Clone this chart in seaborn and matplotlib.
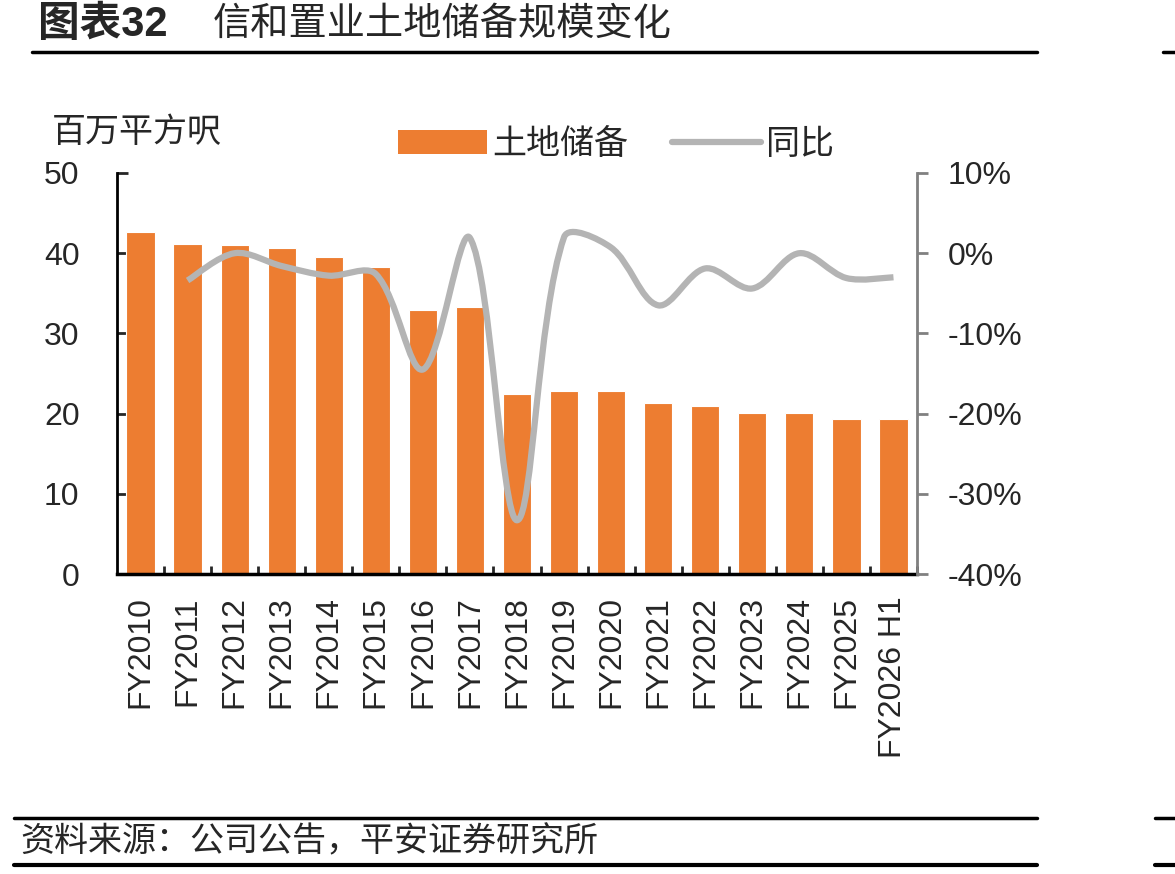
import numpy as np
import matplotlib.pyplot as plt
import seaborn as sns
import pandas as pd
from matplotlib.path import Path
from matplotlib.patches import PathPatch, Patch
from matplotlib.lines import Line2D

# data
years = ["FY2010", "FY2011", "FY2012", "FY2013", "FY2014", "FY2015", "FY2016", "FY2017",
         "FY2018", "FY2019", "FY2020", "FY2021", "FY2022", "FY2023", "FY2024", "FY2025",
         "FY2026 H1"]
land_bank = [42.6, 41.1, 41.0, 40.7, 39.5, 38.3, 32.9, 33.3, 22.4, 22.8, 22.8, 21.3,
             20.9, 20.1, 20.1, 19.3, 19.3]
yoy = [None, -3.4, 0.0, -1.6, -2.8, -2.6, -14.5, 1.9, -33.3, 2.0, 0.7, -6.5, -1.9,
       -4.4, 0.0, -3.1, -3.0]

orange = "#ED7D31"
grey = "#B4B4B4"

sns.set_style("white")
plt.rcParams['font.family'] = ['Liberation Sans', 'Noto Sans CJK SC']
plt.rcParams['axes.unicode_minus'] = False

fig = plt.figure(figsize=(11.75, 8.74), dpi=100)
ax = fig.add_axes([117/1175, 1-574/874, 800/1175, 401/874])

df = pd.DataFrame({"year": years, "val": land_bank})
sns.barplot(data=df, x="year", y="val", color=orange, saturation=1, width=0.6, ax=ax,
            edgecolor="white", linewidth=0.8)
ax.set_ylim(0, 50)
ax.set_xlim(-0.5, len(years)-0.5)
ax.set_xlabel("")
ax.set_ylabel("")
ax.set_yticks([0, 10, 20, 30, 40, 50])
ax.tick_params(axis="y", direction="in", length=8, width=2, pad=27, labelsize=23, left=True)
ax.set_xticks(np.arange(len(years)))
ax.set_xticklabels(years, rotation=90, fontsize=23)
ax.tick_params(axis="x", length=0, pad=16)
ax.set_xticks(np.arange(len(years)) + 0.5, minor=True)
ax.tick_params(axis="x", which="minor", direction="in", length=6, width=2, bottom=True)
for s in ["top", "right"]:
    ax.spines[s].set_visible(False)
ax.spines["left"].set_linewidth(2)
ax.spines["bottom"].set_linewidth(2.5)
ax.spines["left"].set_color("black")
ax.spines["bottom"].set_color("black")

ax2 = ax.twinx()
ax2.set_ylim(-40, 10)
ax2.set_yticks([-40, -30, -20, -10, 0, 10])
ax2.set_yticklabels([f"{v}%" for v in [-40, -30, -20, -10, 0, 10]])
ax2.tick_params(axis="y", direction="out", length=8, width=2, color="#808080",
                pad=14, labelsize=23, right=True)
for s in ["top", "left", "bottom"]:
    ax2.spines[s].set_visible(False)
ax2.spines["right"].set_color("#808080")
ax2.spines["right"].set_linewidth(2)

# smoothed line, Excel-like: control arms scaled by neighbouring segment lengths (in pixels)
sx, sy = 800 / len(years), 401 / 50
pts = np.array([(i, v) for i, v in enumerate(yoy) if v is not None], dtype=float)
S = pts * [sx, sy]
n = len(S)
verts = [tuple(pts[0])]
codes = [Path.MOVETO]
def tangent(i):
    a = S[i-1] if i > 0 else S[i]
    b = S[i+1] if i < n - 1 else S[i]
    return b - a, np.linalg.norm(S[i] - a), np.linalg.norm(b - S[i])
for i in range(n - 1):
    t1, din1, dout1 = tangent(i)
    t2, din2, dout2 = tangent(i + 1)
    c1 = S[i] + t1 * dout1 / max(din1 + dout1, 1e-9) / 3 * (1 if i > 0 else 0.5)
    c2 = S[i+1] - t2 * din2 / max(din2 + dout2, 1e-9) / 3 * (1 if i + 1 < n - 1 else 0.5)
    verts += [tuple(c1 / [sx, sy]), tuple(c2 / [sx, sy]), tuple(pts[i+1])]
    codes += [Path.CURVE4] * 3
ax2.add_patch(PathPatch(Path(verts, codes), fill=False, edgecolor=grey, lw=4.5,
                        capstyle="butt", joinstyle="round"))

# legend
handles = [Patch(facecolor=orange, edgecolor="none"), Line2D([], [], color=grey, lw=4.5)]
fig.legend(handles, ["土地储备", "同比"], loc="center", bbox_to_anchor=(616/1175, 1-145/874),
           ncol=2, frameon=False, fontsize=24.5, handlelength=2.6, handleheight=0.7,
           handletextpad=0.15, columnspacing=1.3)

fig.text(52/1175, 1-133/874, "百万平方呎", fontsize=24.5, va="center", ha="left")

# title and rules
fig.text(38/1175, 1-25/874, "图表32", fontsize=30, fontweight="bold", va="center", ha="left")
fig.text(213/1175, 1-25/874, "信和置业土地储备规模变化", fontsize=27.5, fontweight="medium",
         va="center", ha="left")
fig.add_artist(Line2D([32/1175, 1037/1175], [1-52/874]*2, color="black", lw=2.5))
fig.add_artist(Line2D([1163/1175, 1.0], [1-52/874]*2, color="black", lw=2.5))
fig.add_artist(Line2D([14/1175, 1037/1175], [1-818/874]*2, color="black", lw=2.5))
fig.add_artist(Line2D([1155/1175, 1.0], [1-818/874]*2, color="black", lw=2.5))
fig.add_artist(Line2D([14/1175, 1037/1175], [1-865/874]*2, color="black", lw=3))
fig.add_artist(Line2D([1155/1175, 1.0], [1-865/874]*2, color="black", lw=3))
fig.text(20/1175, 1-842/874, "资料来源：公司公告，平安证券研究所", fontsize=24.5,
         style="italic", va="center", ha="left")

fig.savefig("out.png", dpi=100)
